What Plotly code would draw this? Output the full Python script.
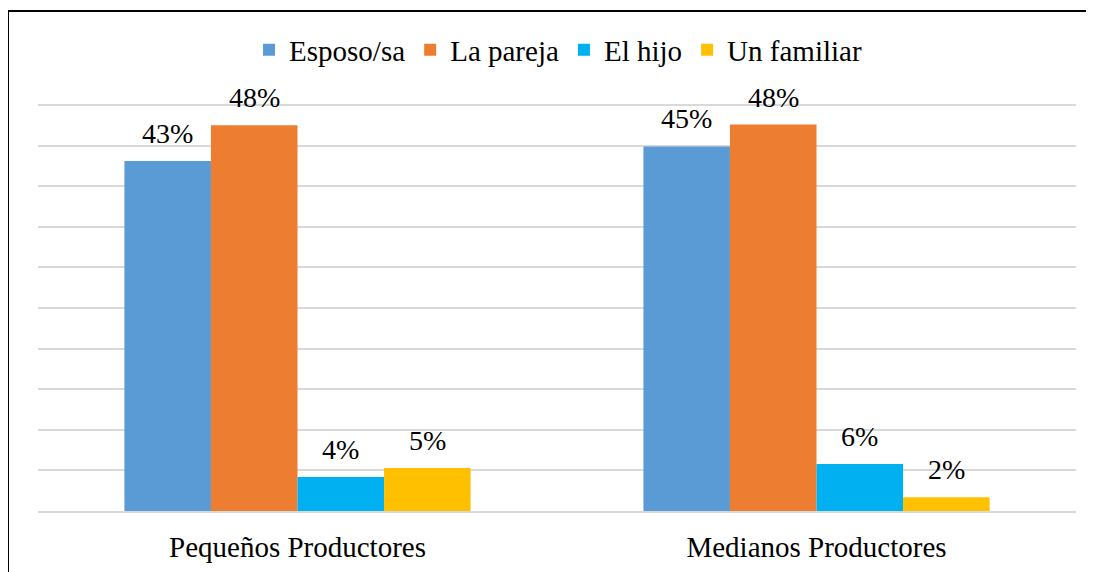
import plotly.graph_objects as go

grupos = ["Pequeños Productores", "Medianos Productores"]
series = ["Esposo/sa", "La pareja", "El hijo", "Un familiar"]
colores = ["#5B9BD5", "#ED7D31", "#00B0F0", "#FFC000"]

# porcentajes (Pequeños, Medianos)
esposo = [43.1, 44.9]
pareja = [47.5, 47.6]
hijo = [4.2, 5.8]
familiar = [5.3, 1.7]
valores = [esposo, pareja, hijo, familiar]

fuente = "Liberation Serif"

ancho, alto = 1086, 564
m_izq, m_der, m_sup, m_inf = 30, 18, 95, 61
hueco = 0.333

fig = go.Figure()
for nombre, vals, color in zip(series, valores, colores):
    fig.add_trace(go.Bar(
        x=grupos,
        y=vals,
        name=nombre,
        marker=dict(color=color, line=dict(width=0)),
    ))

# etiquetas de datos encima de cada barra
ancho_cat = (ancho - m_izq - m_der) / len(grupos)
ancho_barra = ancho_cat * (1 - hueco) / len(series)
for i, vals in enumerate(valores):
    desp = (i - (len(series) - 1) / 2) * ancho_barra
    for g, v in zip(grupos, vals):
        fig.add_annotation(
            x=g, y=v, xref="x", yref="y",
            text=f"{v:.0f}%",
            showarrow=False,
            xshift=desp, yshift=10,
            yanchor="bottom",
            font=dict(family=fuente, size=28, color="black"),
        )

fig.update_layout(
    width=ancho,
    height=alto,
    margin=dict(l=m_izq, r=m_der, t=m_sup, b=m_inf, autoexpand=False),
    paper_bgcolor="white",
    plot_bgcolor="white",
    barmode="group",
    bargap=hueco,
    bargroupgap=0,
    font=dict(family=fuente, size=29, color="black"),
    legend=dict(
        orientation="h",
        x=0.501,
        xanchor="center",
        y=1.13,
        yanchor="middle",
        font=dict(family=fuente, size=29, color="black"),
        itemwidth=30,
    ),
)

fig.update_xaxes(
    automargin=False,
    showline=True,
    linecolor="#D9D9D9",
    linewidth=1.5,
    showgrid=False,
    ticks="",
    ticklabelstandoff=9,
    tickfont=dict(family=fuente, size=29, color="black"),
)
fig.update_yaxes(
    automargin=False,
    range=[0, 50.25],
    tick0=0,
    dtick=5,
    showgrid=True,
    gridcolor="#D9D9D9",
    gridwidth=1.5,
    zeroline=False,
    showticklabels=False,
    ticks="",
)

# marco del grafico (solo se ven los bordes izquierdo y superior)
fig.add_shape(
    type="rect",
    xref="paper", yref="paper",
    x0=-0.0289, x1=1.2,
    y0=-0.3, y1=1.2255,
    line=dict(color="black", width=2),
    fillcolor="rgba(0,0,0,0)",
    layer="above",
)

fig.write_html("out.html")
